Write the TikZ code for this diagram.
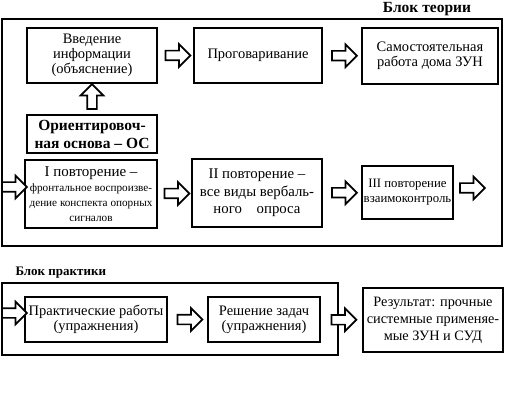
\documentclass[tikz,border=0pt]{standalone}
\usepackage{fontspec}
\setmainfont{Liberation Serif}
\usetikzlibrary{shapes.arrows, calc}

\tikzset{
  stage/.style={draw, line width=1.2pt, align=center, inner sep=1pt,
    font=\fontsize{14.5}{15}\selectfont},
  blockarr/.style={single arrow, draw, fill=white, line width=1.7pt,
    minimum height=25pt, inner sep=4pt, single arrow head extend=6.5pt},
  frame/.style={line width=1.4pt}
}

\begin{document}
\begin{tikzpicture}[x=1pt, y=-1pt]
    % page size of the scan
    \useasboundingbox (0,0) rectangle (509,401);

    % Block of theory
    \draw[frame] (2,19) rectangle (502,246);
    \node[font=\bfseries\fontsize{15.5}{16}\selectfont] (lbltheory) at (427,9) {Блок теории};

    % top row
    \node[stage, minimum width=130pt, minimum height=55pt] (vved) at (92,55.5)
      {Введение\\информации\\(объяснение)};
    \node[stage, minimum width=128pt, minimum height=55pt] (progov) at (258,55.5)
      {Проговаривание};
    \node[stage, minimum width=136pt, minimum height=56pt] (samost) at (430,56)
      {Самостоятельная\\работа дома ЗУН};
    \node[blockarr] (a1) at ($(vved.east)!0.5!(progov.west)$) {};
    \node[blockarr] (a2) at ($(progov.east)!0.5!(samost.west)$) {};

    % orienting basis
    \node[stage, minimum width=130pt, minimum height=38pt, font=\bfseries\fontsize{15.5}{18}\selectfont] (orient) at (92,134)
      {Ориентировоч-\\ная основа – ОС};
    \node[blockarr, rotate=90] (aup) at ($(orient.north)!0.5!(vved.south)$) {};

    % repetitions
    \node[stage, minimum width=132pt, minimum height=68pt] (rep1) at (91,194)
      {{\fontsize{15}{16}\selectfont I повторение –}\\{\fontsize{11.2}{13}\selectfont фронтальное воспроизве-}\\{\fontsize{11.2}{13}\selectfont дение конспекта опорных}\\{\fontsize{11.2}{14}\selectfont сигналов}};
    \node[stage, minimum width=130pt, minimum height=68pt, font=\fontsize{14.8}{17.5}\selectfont] (rep2) at (257,193)
      {II повторение –\\все виды вербаль-\\ного\quad опроса};
    \node[stage, minimum width=91pt, minimum height=53pt, font=\fontsize{12.8}{15}\selectfont] (rep3) at (407.5,192.5)
      {III повторение\\взаимоконтроль};
    \node[blockarr] (a0) at (12,187) {};
    \node[blockarr] (a3) at ($(rep1.east)!0.5!(rep2.west)$) {};
    \node[blockarr] (a4) at ($(rep2.east)!0.5!(rep3.west)$) {};
    \node[blockarr] (a5) at (470,188) {};

    % Block of practice
    \node[font=\bfseries\fontsize{13}{14}\selectfont, anchor=west] (lblpract) at (12,273) {Блок практики};
    \draw[frame] (2,283) rectangle (338,355);
    \node[stage, minimum width=142pt, minimum height=45pt] (prak) at (96,319.5)
      {Практические работы\\(упражнения)};
    \node[stage, minimum width=112pt, minimum height=45pt] (resh) at (264,319.5)
      {Решение задач\\(упражнения)};
    \node[stage, minimum width=140pt, minimum height=64pt, font=\fontsize{14.3}{17}\selectfont] (result) at (433,320)
      {Результат: прочные\\системные применяе-\\мые ЗУН и СУД};
    \node[blockarr] (b0) at (12,313) {};
    \node[blockarr] (b1) at ($(prak.east)!0.5!(resh.west)$) {};
    \node[blockarr] (b2) at ($(resh.east)!0.5!(result.west)$) {};
  \end{tikzpicture}
\end{document}
